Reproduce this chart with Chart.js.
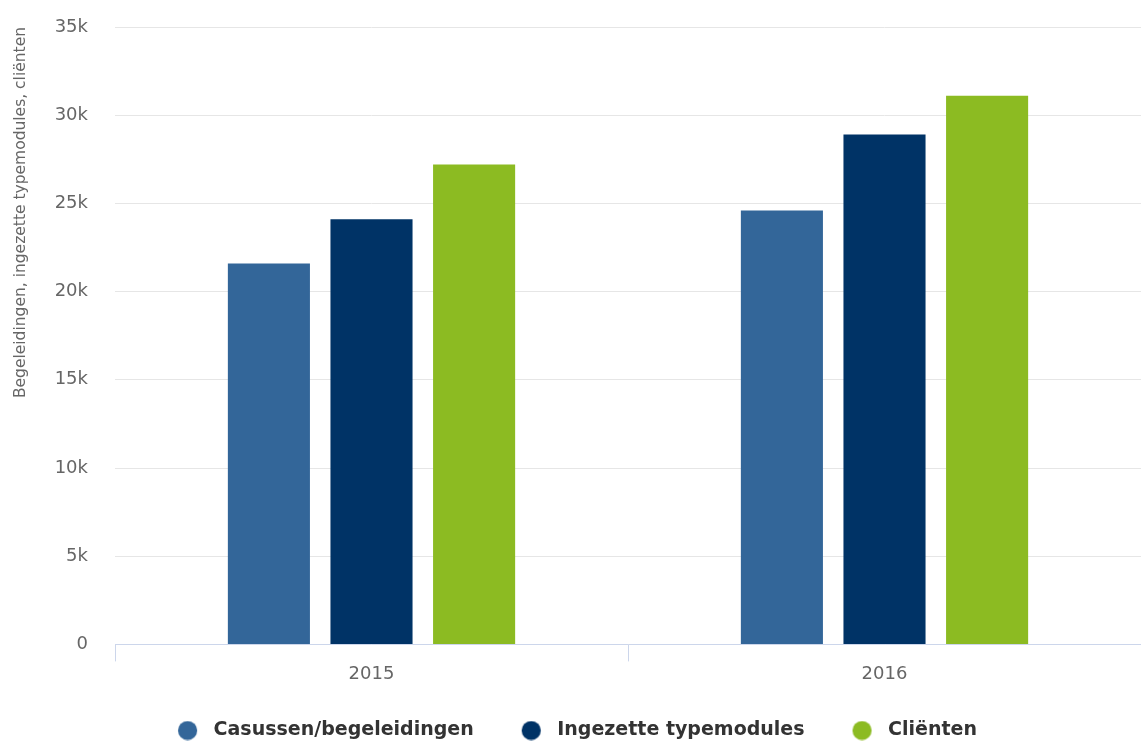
<!DOCTYPE html>
<html>
<head>
<meta charset="utf-8">
<style>
  body { margin: 0; background: #fff; }
</style>
</head>
<body>
<canvas id="chart" width="1141" height="743"></canvas>

<script src="https://cdn.jsdelivr.net/npm/chart.js@4.4.1/dist/chart.umd.min.js"></script>
<script>
  const years = ['2015', '2016'];
  const casussen = [21600, 24600];
  const typemodules = [24100, 28900];
  const clienten = [27200, 31100];
  const yTicks = [0, 5000, 10000, 15000, 20000, 25000, 30000, 35000];

  const colors = ['#336699', '#003366', '#8cbb22'];

  // legend marker: a circle with some empty room on its left, so the spacing matches
  function legendDot(color) {
    const c = document.createElement('canvas');
    c.width = 40;
    c.height = 20;
    const g = c.getContext('2d');
    g.fillStyle = color;
    g.beginPath();
    g.arc(23.5, 10, 9.6, 0, Math.PI * 2);
    g.fill();
    return c;
  }
  const dots = colors.map(legendDot);

  const ctx = document.getElementById('chart');

  new Chart(ctx, {
    type: 'bar',
    data: {
      labels: years,
      datasets: [
        { label: 'Casussen/begeleidingen', data: casussen, backgroundColor: colors[0] },
        { label: 'Ingezette typemodules', data: typemodules, backgroundColor: colors[1] },
        { label: 'Cliënten', data: clienten, backgroundColor: colors[2] }
      ]
    },
    options: {
      responsive: false,
      animation: false,
      categoryPercentage: 0.6,
      barPercentage: 0.8,
      layout: { padding: { top: 27, right: 0, left: 0, bottom: -7 } },
      scales: {
        x: {
          grid: {
            offset: true,
            drawOnChartArea: false,
            drawTicks: true,
            tickLength: 17,
            color: '#ccd6eb'
          },
          border: { color: '#ccd6eb' },
          ticks: {
            color: '#666',
            font: { family: 'DejaVu Sans', size: 18 },
            padding: 2
          }
        },
        y: {
          min: 0,
          max: 35000,
          afterBuildTicks: function(scale) {
            scale.ticks = yTicks.map(v => ({ value: v }));
          },
          afterFit: function(scale) {
            scale.width = 115;
          },
          grid: { color: '#e6e6e6', drawTicks: true, tickLength: 27, tickColor: 'rgba(0,0,0,0)' },
          border: { display: false },
          ticks: {
            color: '#666',
            font: { family: 'DejaVu Sans', size: 18 },
            padding: 0,
            callback: function(v) {
              return v === 0 ? '0' : (v / 1000) + 'k';
            }
          },
          title: {
            display: true,
            text: 'Begeleidingen, ingezette typemodules, cliënten',
            align: 'end',
            color: '#666',
            font: { family: 'DejaVu Sans', size: 15.5 },
            padding: { top: 12, bottom: 0 }
          }
        }
      },
      plugins: {
        legend: {
          position: 'bottom',
          labels: {
            usePointStyle: true,
            pointStyleWidth: 40,
            boxHeight: 19,
            padding: 34,
            color: '#333',
            font: { family: 'DejaVu Sans', size: 19, weight: 'bold' },
            generateLabels: function(chart) {
              const items = Chart.defaults.plugins.legend.labels.generateLabels(chart);
              items.forEach((it, i) => { it.pointStyle = dots[i]; });
              return items;
            }
          }
        },
        tooltip: { enabled: false }
      }
    }
  });
</script>
</body>
</html>
